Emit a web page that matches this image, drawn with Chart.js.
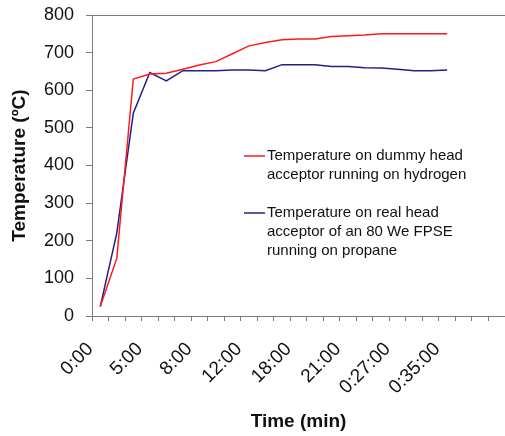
<!DOCTYPE html>
<html>
<head>
<meta charset="utf-8">
<script src="https://cdn.jsdelivr.net/npm/chart.js@4/dist/chart.umd.min.js"></script>
<style>
  html, body { margin: 0; padding: 0; background: #fff; overflow: hidden; }
  #wrap { width: 505px; height: 436px; }
</style>
</head>
<body>
<div id="wrap"><canvas id="chart" width="505" height="436"></canvas></div>
<script>
// time axis: one category per reading, a label every third reading
const tickLabels = ['0:00', '5:00', '8:00', '12:00', '18:00', '21:00', '0:27:00', '0:35:00'];
const categoryCount = 25;

// dummy head acceptor, hydrogen (ºC)
const hydrogenTemp = [25, 153, 630, 643, 645, 656, 667, 676, 697, 718, 727, 734, 736, 736, 743, 745, 747, 750, 750, 750, 750, 750];
// real head acceptor, 80 We FPSE, propane (ºC)
const propaneTemp = [25, 220, 539, 647, 625, 652, 652, 652, 654, 654, 652, 668, 668, 668, 663, 663, 660, 659, 656, 652, 652, 654];

const seriesNames = [
  ['Temperature on dummy head', 'acceptor running on hydrogen'],
  ['Temperature on real head', 'acceptor of an 80 We FPSE', 'running on propane']
];
const seriesColors = ['#ff1a1a', '#1f1f8a'];

const FONT = '"Liberation Sans", Arial, sans-serif';
const AXIS = '#7a7a7a';

const categories = [];
for (let i = 0; i < categoryCount; i++) categories.push(i);

// top edge of the plot area + the inline legend
const frameAndLegend = {
  id: 'frameAndLegend',
  afterDraw(chart) {
    const { ctx, chartArea } = chart;
    ctx.save();
    ctx.strokeStyle = AXIS;
    ctx.lineWidth = 1;
    ctx.beginPath();
    ctx.moveTo(chartArea.left, chartArea.top + 0.5);
    ctx.lineTo(chartArea.right, chartArea.top + 0.5);
    ctx.stroke();

    ctx.font = '15px ' + FONT;
    ctx.fillStyle = '#111';
    ctx.textBaseline = 'middle';
    const blocks = [156, 213];
    blocks.forEach((y0, s) => {
      ctx.strokeStyle = seriesColors[s];
      ctx.lineWidth = 1.5;
      ctx.beginPath();
      ctx.moveTo(244, y0);
      ctx.lineTo(265, y0);
      ctx.stroke();
      seriesNames[s].forEach((line, k) => {
        ctx.fillText(line, 267, y0 + k * 18.7);
      });
    });
    ctx.restore();
  }
};

new Chart(document.getElementById('chart'), {
  type: 'line',
  data: {
    labels: categories,
    datasets: [
      {
        label: seriesNames[0].join(' '),
        data: hydrogenTemp,
        borderColor: seriesColors[0],
        borderWidth: 1.5,
        pointRadius: 0,
        tension: 0
      },
      {
        label: seriesNames[1].join(' '),
        data: propaneTemp,
        borderColor: seriesColors[1],
        borderWidth: 1.5,
        pointRadius: 0,
        tension: 0
      }
    ]
  },
  options: {
    responsive: false,
    animation: false,
    devicePixelRatio: 1,
    layout: { padding: { top: 15, left: 0, right: 0, bottom: 0 } },
    plugins: {
      legend: { display: false },
      tooltip: { enabled: false }
    },
    scales: {
      x: {
        type: 'category',
        offset: true,
        grid: {
          offset: true,
          drawOnChartArea: false,
          color: AXIS,
          tickLength: 5
        },
        border: { color: AXIS },
        ticks: {
          autoSkip: false,
          maxRotation: 45,
          minRotation: 45,
          labelOffset: -10,
          padding: 17,
          color: '#111',
          font: { family: FONT, size: 19 },
          callback: (val, idx) => (idx % 3 === 0 && tickLabels[idx / 3]) ? tickLabels[idx / 3] : ''
        },
        title: {
          display: true,
          text: 'Time (min)',
          color: '#111',
          font: { family: FONT, size: 19, weight: 'bold' },
          padding: { top: 0, bottom: 3 }
        },
        afterFit: (scale) => {
          scale.height = 120;
          scale.paddingLeft = 0;
          scale.paddingRight = 0;
        }
      },
      y: {
        min: 0,
        max: 800,
        grid: {
          drawOnChartArea: false,
          color: AXIS,
          tickLength: 6
        },
        border: { color: AXIS },
        ticks: {
          stepSize: 100,
          padding: 12,
          color: '#111',
          font: { family: FONT, size: 18 }
        },
        title: {
          display: true,
          text: 'Temperature (ºC)',
          color: '#111',
          font: { family: FONT, size: 19, weight: 'bold' },
          padding: { top: 8, bottom: 0 }
        },
        afterFit: (scale) => {
          scale.width = 92;
          scale.paddingTop = 0;
          scale.paddingBottom = 0;
        }
      }
    }
  },
  plugins: [frameAndLegend]
});
</script>
</body>
</html>
